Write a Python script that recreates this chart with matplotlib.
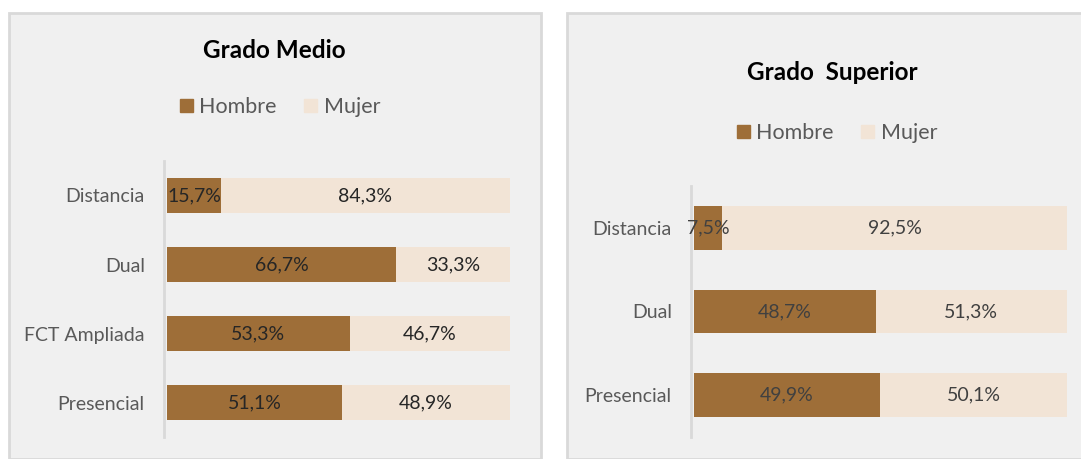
import matplotlib.pyplot as plt
from matplotlib.patches import Rectangle, Patch

# datos
cat_medio = ['Distancia', 'Dual', 'FCT Ampliada', 'Presencial']
hombre_medio = [15.7, 66.7, 53.3, 51.1]
mujer_medio = [84.3, 33.3, 46.7, 48.9]

cat_superior = ['Distancia', 'Dual', 'Presencial']
hombre_superior = [7.5, 48.7, 49.9]
mujer_superior = [92.5, 51.3, 50.1]

c_hombre = '#9e6e38'
c_mujer = '#f2e4d6'
bg = '#f0f0f0'
borde = '#d9d9d9'

plt.rcParams['font.family'] = ['Lato', 'DejaVu Sans']

W, H = 1081, 459
fig = plt.figure(figsize=(W / 100, H / 100), dpi=100)
fig.patch.set_facecolor('white')


def px(x0, y0, x1, y1):
    # caja en pixeles (origen arriba-izquierda) -> fracciones de figura
    return [x0 / W, (H - y1) / H, (x1 - x0) / W, (y1 - y0) / H]


# fondos de los paneles
fig.patches.append(Rectangle((9 / W, 0), (532 / W), (H - 13) / H, transform=fig.transFigure,
                             facecolor=bg, edgecolor=borde, linewidth=2, zorder=-5))
fig.patches.append(Rectangle((567 / W, 0), (516 / W), (H - 13) / H, transform=fig.transFigure,
                             facecolor=bg, edgecolor=borde, linewidth=2, zorder=-5))


def panel(box, cats, hom, muj, lbl_color):
    ax = fig.add_axes(px(*box))
    ax.set_facecolor('none')
    for s in ['top', 'right', 'bottom']:
        ax.spines[s].set_visible(False)
    ax.spines['left'].set_color(borde)
    ax.spines['left'].set_linewidth(2)
    ax.spines['left'].set_position(('outward', 2))
    y = list(range(len(cats)))
    ax.barh(y, hom, height=0.52, color=c_hombre, label='Hombre')
    ax.barh(y, muj, left=hom, height=0.52, color=c_mujer, label='Mujer')
    for i in y:
        ax.text(hom[i] / 2, i, f'{hom[i]:.1f}%'.replace('.', ','), ha='center', va='center',
                fontsize=14, color=lbl_color)
        ax.text(hom[i] + muj[i] / 2, i, f'{muj[i]:.1f}%'.replace('.', ','), ha='center', va='center',
                fontsize=14, color=lbl_color)
    ax.set_xlim(0, 100)
    ax.set_ylim(len(cats) - 0.5, -0.5)
    ax.set_yticks(y)
    ax.set_yticklabels(cats)
    ax.set_xticks([])
    ax.tick_params(axis='y', length=0, pad=14, labelsize=14, labelcolor='#595959')
    return ax


panel((167, 161, 510, 437), cat_medio, hombre_medio, mujer_medio, '#262626')
panel((694, 186, 1067, 437), cat_superior, hombre_superior, mujer_superior, '#404040')

fig.text(274 / W, 1 - 50 / H, 'Grado Medio', ha='center', va='center',
         fontsize=17.5, fontweight='bold', color='black')
fig.text(832 / W, 1 - 72 / H, 'Grado  Superior', ha='center', va='center',
         fontsize=17.5, fontweight='bold', color='black')

handles = [Patch(color=c_hombre, label='Hombre'), Patch(color=c_mujer, label='Mujer')]
for cx, cy in [(280, 107), (837, 133)]:
    fig.legend(handles=handles, loc='center', bbox_to_anchor=(cx / W, 1 - cy / H), ncol=2,
               frameon=False, fontsize=15.5, labelcolor='#595959', handlelength=0.6,
               handleheight=0.6, handletextpad=0.3, columnspacing=1.3)

fig.savefig('out.png', dpi=100)
